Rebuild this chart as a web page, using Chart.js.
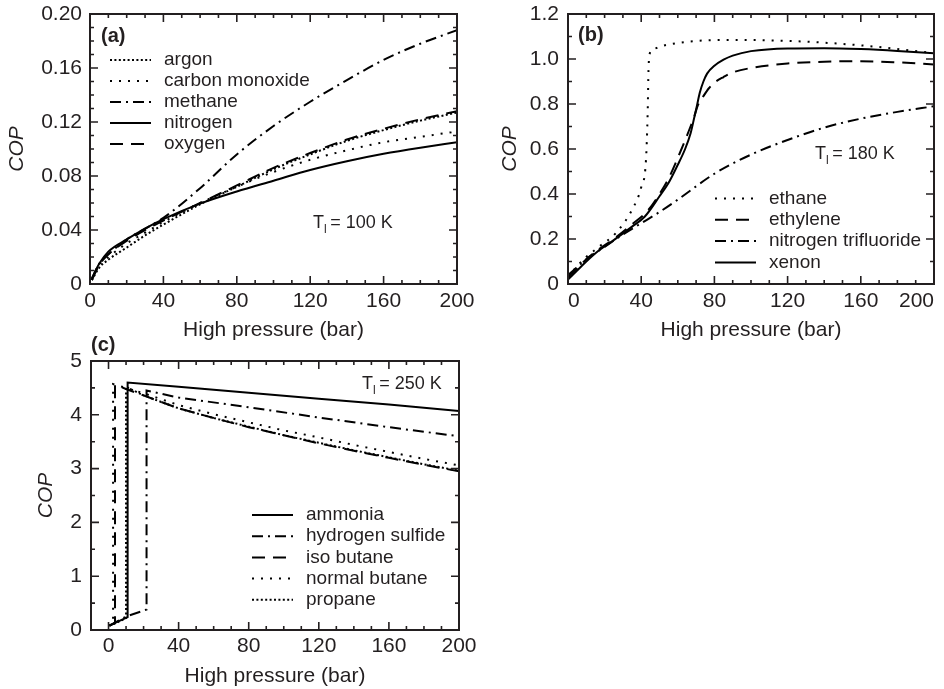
<!DOCTYPE html>
<html>
<head>
<meta charset="utf-8">
<title>COP vs high pressure</title>
<script src="https://cdn.jsdelivr.net/npm/chart.js@4.4.1/dist/chart.umd.min.js"></script>
<style>
  html, body { margin: 0; padding: 0; background: #fff; overflow: hidden; }
  #wrap { position: relative; width: 944px; height: 689px; }
  canvas { position: absolute; }
  #chartA { left: 0; top: 0; }
  #chartB { left: 480px; top: 0; }
  #chartC { left: 0; top: 335px; }
</style>
</head>
<body>
<div id="wrap">
  <canvas id="chartA" width="480" height="345"></canvas>
  <canvas id="chartB" width="464" height="345"></canvas>
  <canvas id="chartC" width="480" height="354"></canvas>
</div>
<script>
// ---- panel (a): cryogens, T_l = 100 K ----
const pressureA = [1, 5, 10, 20, 30, 40, 60, 80, 100, 120, 140, 160, 180, 200];
const argonCOP    = [0.003, 0.012, 0.018, 0.027, 0.036, 0.044, 0.059, 0.072, 0.085, 0.096, 0.106, 0.114, 0.121, 0.127];
const coCOP       = [0.003, 0.014, 0.020, 0.030, 0.038, 0.046, 0.060, 0.072, 0.083, 0.092, 0.099, 0.105, 0.109, 0.113];
const methaneCOP  = [0.004, 0.015, 0.022, 0.033, 0.041, 0.049, 0.071, 0.096, 0.117, 0.135, 0.151, 0.166, 0.178, 0.188];
const nitrogenCOP = [0.004, 0.015, 0.024, 0.033, 0.041, 0.048, 0.0595, 0.0685, 0.0765, 0.0845, 0.091, 0.0965, 0.101, 0.105];
const oxygenCOP   = [0.003, 0.014, 0.022, 0.032, 0.040, 0.047, 0.060, 0.073, 0.086, 0.097, 0.107, 0.115, 0.122, 0.128];

// ---- panel (b): T_l = 180 K ----
const ethaneP   = [0, 5, 10, 17, 26, 35, 40, 42.6, 43.5, 44, 44.5, 47, 53.6, 71.8, 90, 110, 130, 150, 170, 200];
const ethaneCOP = [0.03, 0.08, 0.12, 0.166, 0.225, 0.33, 0.43, 0.55, 0.75, 0.95, 1.02, 1.045, 1.062, 1.081, 1.085, 1.083, 1.077, 1.067, 1.053, 1.026];
const ethyleneP   = [0, 5, 10, 17, 25, 35, 44, 50, 55, 61, 66, 69, 71, 74, 77, 80, 85, 90, 100, 120, 140, 160, 180, 200];
const ethyleneCOP = [0.03, 0.07, 0.11, 0.155, 0.2, 0.265, 0.33, 0.4, 0.47, 0.58, 0.68, 0.745, 0.795, 0.835, 0.87, 0.895, 0.92, 0.94, 0.96, 0.98, 0.988, 0.99, 0.985, 0.976];
const nf3P   = [0, 5, 10, 20, 30, 40, 50, 60, 80, 100, 120, 140, 160, 180, 200];
const nf3COP = [0.04, 0.075, 0.11, 0.165, 0.22, 0.27, 0.32, 0.375, 0.49, 0.575, 0.64, 0.695, 0.735, 0.765, 0.79];
const xenonP   = [0, 5, 10, 17, 25, 35, 42, 50, 55, 60, 64, 67, 69, 70.4, 72, 74, 76, 80, 85, 90, 100, 120, 140, 160, 180, 200];
const xenonCOP = [0.02, 0.06, 0.1, 0.15, 0.195, 0.255, 0.3, 0.39, 0.45, 0.53, 0.6, 0.67, 0.74, 0.79, 0.85, 0.9, 0.935, 0.97, 0.997, 1.015, 1.035, 1.047, 1.048, 1.044, 1.036, 1.025];

// ---- panel (c): T_l = 250 K ----
const ammoniaP   = [0.5, 5, 10.9, 10.9, 40, 80, 120, 160, 200];
const ammoniaCOP = [0.08, 0.15, 0.24, 4.6, 4.52, 4.41, 4.3, 4.19, 4.07];
const h2sP   = [0.5, 10, 21.7, 21.7, 40, 80, 120, 160, 200];
const h2sCOP = [0.08, 0.25, 0.38, 4.45, 4.32, 4.14, 3.95, 3.77, 3.6];
const isoButaneP   = [0.5, 3.7, 3.7, 10, 20, 40, 60, 80, 100, 120, 140, 160, 180, 200];
const isoButaneCOP = [0.08, 0.13, 4.56, 4.48, 4.36, 4.12, 3.94, 3.77, 3.62, 3.47, 3.33, 3.2, 3.07, 2.95];
const nButaneP   = [0.5, 2.6, 2.6, 10, 20, 40, 60, 80, 100, 120, 140, 160, 180, 200];
const nButaneCOP = [0.08, 0.12, 4.57, 4.5, 4.4, 4.18, 4.01, 3.86, 3.71, 3.58, 3.44, 3.31, 3.18, 3.06];
const propaneP   = [0.5, 5, 10, 10, 20, 40, 60, 80, 100, 120, 140, 160, 180, 200];
const propaneCOP = [0.08, 0.14, 0.22, 4.52, 4.36, 4.12, 3.94, 3.78, 3.62, 3.48, 3.34, 3.21, 3.08, 2.96];

// ---- axes ----
const pressureTicks = [0, 40, 80, 120, 160, 200];
const pressureLabels = ['0', '40', '80', '120', '160', '200'];
const copTicksA = [0, 0.04, 0.08, 0.12, 0.16, 0.20];
const copLabelsA = ['0', '0.04', '0.08', '0.12', '0.16', '0.20'];
const copTicksB = [0, 0.2, 0.4, 0.6, 0.8, 1.0, 1.2];
const copLabelsB = ['0', '0.2', '0.4', '0.6', '0.8', '1.0', '1.2'];
const copTicksC = [0, 1, 2, 3, 4, 5];
const copLabelsC = ['0', '1', '2', '3', '4', '5'];
const lowTemperatures = ['100 K', '180 K', '250 K'];

const FONT = "'Liberation Sans', Arial, Helvetica, sans-serif";
const INK = '#231f20';
Chart.defaults.font.family = FONT;
Chart.defaults.color = INK;

// line styles
const SOLID = [];
const DASHED = [13, 8];
const DASH_DOT = [11, 5, 2, 5];
const DOTTED = [2, 7];
const FINE_DOT = [2, 2.4];

function pts(xs, ys) {
  return xs.map((x, i) => ({ x: x, y: ys[i] }));
}

// frame, inward ticks, legend and panel captions
const decor = {
  id: 'decor',
  afterDraw(chart, args, o) {
    const { ctx, chartArea: a, scales } = chart;
    ctx.save();
    ctx.strokeStyle = INK;
    ctx.fillStyle = INK;
    ctx.lineWidth = 1.6;

    const ticks = (scale, step, horizontal) => {
      const majors = scale.ticks.map(t => t.value);
      const n0 = Math.ceil(scale.min / step - 1e-6);
      const n1 = Math.floor(scale.max / step + 1e-6);
      for (let n = n0; n <= n1; n++) {
        const v = n * step;
        const len = majors.some(m => Math.abs(m - v) < step / 10) ? 8 : 4;
        const p = scale.getPixelForValue(v);
        ctx.beginPath();
        if (horizontal) {
          ctx.moveTo(p, a.bottom); ctx.lineTo(p, a.bottom - len);
          ctx.moveTo(p, a.top); ctx.lineTo(p, a.top + len);
        } else {
          ctx.moveTo(a.left, p); ctx.lineTo(a.left + len, p);
          ctx.moveTo(a.right, p); ctx.lineTo(a.right - len, p);
        }
        ctx.stroke();
      }
    };
    ticks(scales.x, o.minorX, true);
    ticks(scales.y, o.minorY, false);

    ctx.lineWidth = 2;
    ctx.strokeRect(a.left, a.top, a.width, a.height);

    // legend rows
    chart.data.datasets.forEach((ds, i) => {
      const y = o.legendY + i * o.legendRow;
      ctx.save();
      ctx.strokeStyle = '#000';
      ctx.lineWidth = ds.borderWidth;
      ctx.setLineDash(ds.borderDash);
      ctx.beginPath();
      ctx.moveTo(o.legendX, y);
      ctx.lineTo(o.legendX + 41, y);
      ctx.stroke();
      ctx.restore();
      ctx.font = '19px ' + FONT;
      ctx.textAlign = 'left';
      ctx.textBaseline = 'middle';
      ctx.fillText(ds.label, o.legendX + 54, y);
    });

    // panel tag
    ctx.font = 'bold 20px ' + FONT;
    ctx.textAlign = 'left';
    ctx.textBaseline = 'middle';
    ctx.fillText(o.tag, o.tagX, o.tagY);

    // T_l = ... with subscript l
    ctx.textBaseline = 'alphabetic';
    ctx.font = '18px ' + FONT;
    ctx.fillText('T', o.tempX, o.tempY);
    let w = ctx.measureText('T').width;
    ctx.font = '12px ' + FONT;
    ctx.fillText('l', o.tempX + w, o.tempY + 5);
    w += ctx.measureText('l').width + 3.5;
    ctx.font = '18px ' + FONT;
    ctx.fillText('= ' + o.temp, o.tempX + w, o.tempY);
    ctx.restore();
  }
};

function axis(dir, a) {
  return {
    type: 'linear',
    min: a.min,
    max: a.max,
    afterBuildTicks: s => { s.ticks = a.ticks.map(v => ({ value: v })); },
    afterFit: s => {
      if (dir === 'x') s.height = a.size; else s.width = a.size;
      s.paddingLeft = 0; s.paddingRight = 0; s.paddingTop = 0; s.paddingBottom = 0;
    },
    grid: { display: false, drawTicks: false },
    border: { display: false },
    ticks: {
      padding: a.pad, autoSkip: false, maxRotation: 0, align: a.align || 'center',
      font: { size: 21 }, callback: (v, i) => a.labels[i]
    },
    title: {
      display: true, text: a.title,
      font: { size: 21, style: a.italic ? 'italic' : 'normal' },
      padding: a.titlePad
    }
  };
}

function makeChart(id, series, cfg) {
  return new Chart(document.getElementById(id), {
    type: 'line',
    data: {
      datasets: series.map(s => ({
        label: s.label,
        data: pts(s.x, s.y),
        borderColor: '#000',
        borderWidth: 2,
        borderDash: s.dash,
        pointRadius: 0,
        fill: false,
        tension: 0,
        cubicInterpolationMode: cfg.smooth ? 'monotone' : 'default'
      }))
    },
    options: {
      responsive: false,
      animation: false,
      events: [],
      layout: { padding: cfg.padding },
      plugins: { legend: { display: false }, tooltip: { enabled: false }, decor: cfg.decor },
      scales: { x: axis('x', cfg.x), y: axis('y', cfg.y) }
    },
    plugins: [decor]
  });
}

makeChart('chartA', [
  { label: 'argon', x: pressureA, y: argonCOP, dash: FINE_DOT },
  { label: 'carbon monoxide', x: pressureA, y: coCOP, dash: DOTTED },
  { label: 'methane', x: pressureA, y: methaneCOP, dash: DASH_DOT },
  { label: 'nitrogen', x: pressureA, y: nitrogenCOP, dash: SOLID },
  { label: 'oxygen', x: pressureA, y: oxygenCOP, dash: DASHED }
], {
  smooth: true,
  padding: { left: 0, top: 14, right: 23, bottom: 0 },
  x: { min: 0, max: 200, ticks: pressureTicks, labels: pressureLabels, size: 61, pad: 5,
       title: 'High pressure (bar)', titlePad: { top: 0, bottom: 2.4 } },
  y: { min: 0, max: 0.2, ticks: copTicksA, labels: copLabelsA, size: 90, pad: 8,
       title: 'COP', italic: true, titlePad: { top: 4.4, bottom: 0 } },
  decor: { minorX: 10, minorY: 0.01, tag: '(a)', tagX: 101, tagY: 36,
           temp: lowTemperatures[0], tempX: 313, tempY: 228,
           legendX: 110, legendY: 60, legendRow: 21 }
});

makeChart('chartB', [
  { label: 'ethane', x: ethaneP, y: ethaneCOP, dash: DOTTED },
  { label: 'ethylene', x: ethyleneP, y: ethyleneCOP, dash: DASHED },
  { label: 'nitrogen trifluoride', x: nf3P, y: nf3COP, dash: DASH_DOT },
  { label: 'xenon', x: xenonP, y: xenonCOP, dash: SOLID }
], {
  smooth: true,
  padding: { left: 0, top: 14, right: 10, bottom: 0 },
  x: { min: 0, max: 200, ticks: pressureTicks, labels: pressureLabels, size: 61, pad: 5, align: 'inner',
       title: 'High pressure (bar)', titlePad: { top: 0, bottom: 2.4 } },
  y: { min: 0, max: 1.2, ticks: copTicksB, labels: copLabelsB, size: 88, pad: 9,
       title: 'COP', italic: true, titlePad: { top: 17.4, bottom: 0 } },
  decor: { minorX: 10, minorY: 0.1, tag: '(b)', tagX: 98, tagY: 35,
           temp: lowTemperatures[1], tempX: 335, tempY: 159,
           legendX: 235, legendY: 198.5, legendRow: 21.3 }
});

makeChart('chartC', [
  { label: 'ammonia', x: ammoniaP, y: ammoniaCOP, dash: SOLID },
  { label: 'hydrogen sulfide', x: h2sP, y: h2sCOP, dash: DASH_DOT },
  { label: 'iso butane', x: isoButaneP, y: isoButaneCOP, dash: DASHED },
  { label: 'normal butane', x: nButaneP, y: nButaneCOP, dash: DOTTED },
  { label: 'propane', x: propaneP, y: propaneCOP, dash: FINE_DOT }
], {
  smooth: false,
  padding: { left: 0, top: 26, right: 21, bottom: 0 },
  x: { min: -10, max: 200, ticks: pressureTicks, labels: pressureLabels, size: 59, pad: 4,
       title: 'High pressure (bar)', titlePad: { top: 0, bottom: 0 } },
  y: { min: 0, max: 5, ticks: copTicksC, labels: copLabelsC, size: 91, pad: 9,
       title: 'COP', italic: true, titlePad: { top: 34, bottom: 0 } },
  decor: { minorX: 10, minorY: 0.5, tag: '(c)', tagX: 91, tagY: 10,
           temp: lowTemperatures[2], tempX: 362, tempY: 54,
           legendX: 252, legendY: 180, legendRow: 21.2 }
});
</script>
</body>
</html>
